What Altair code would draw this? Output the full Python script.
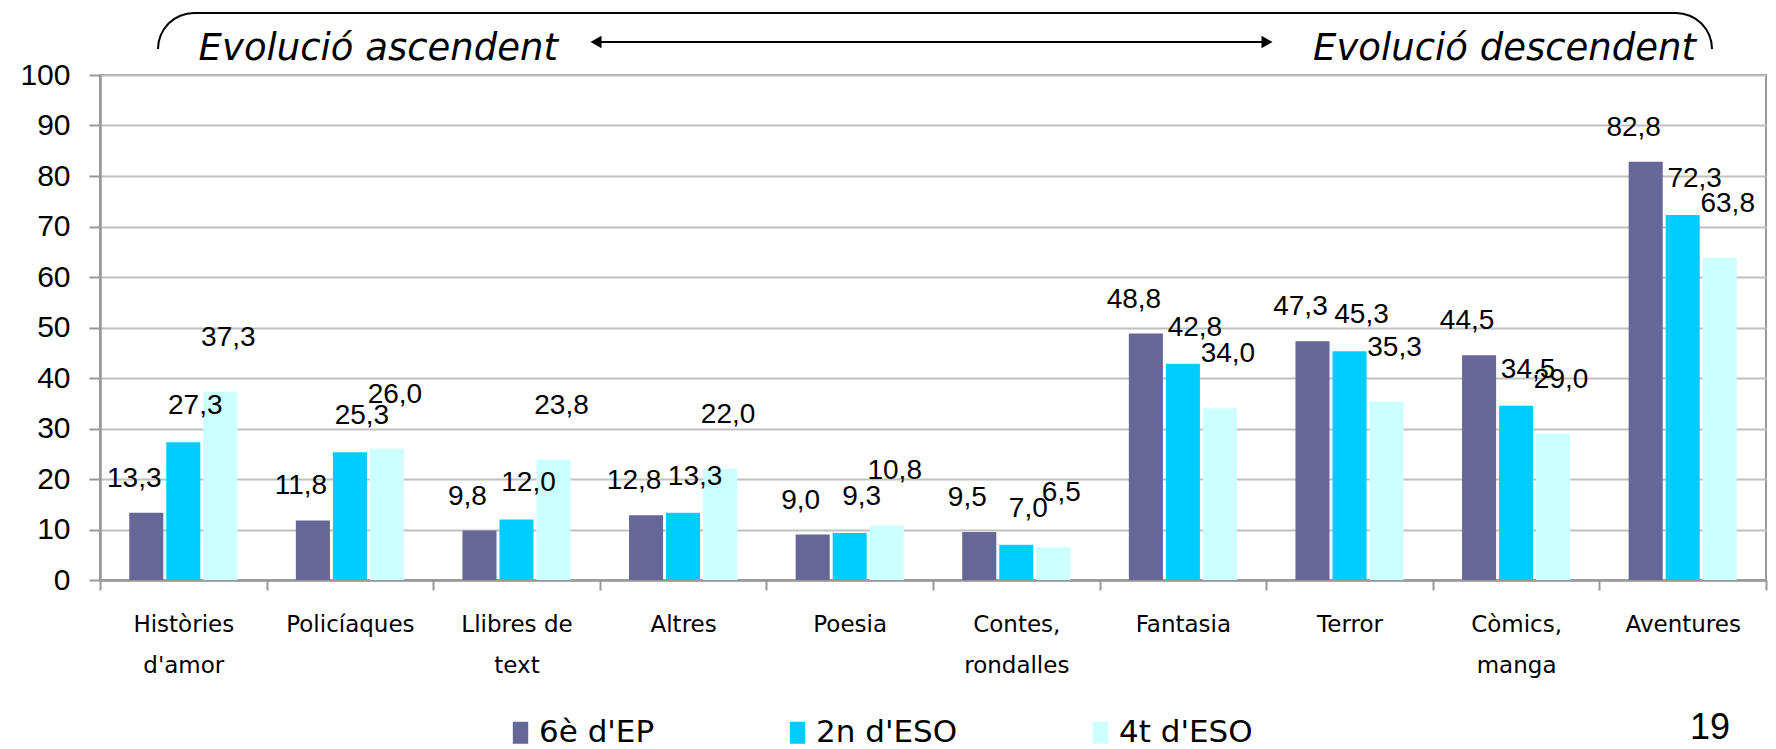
import math
import altair as alt
import pandas as pd

categories = [
    "Històries\nd'amor", "Policíaques", "Llibres de\ntext", "Altres", "Poesia",
    "Contes,\nrondalles", "Fantasia", "Terror", "Còmics,\nmanga", "Aventures",
]
series = ["6è d'EP", "2n d'ESO", "4t d'ESO"]
values_6ep = [13.3, 11.8, 9.8, 12.8, 9.0, 9.5, 48.8, 47.3, 44.5, 82.8]
values_2eso = [27.3, 25.3, 12.0, 13.3, 9.3, 7.0, 42.8, 45.3, 34.5, 72.3]
values_4eso = [37.3, 26.0, 23.8, 22.0, 10.8, 6.5, 34.0, 35.3, 29.0, 63.8]
colors = ["#666699", "#00CCFF", "#CCFFFF"]
y_ticks = list(range(0, 101, 10))

rows = []
for s, vals in zip(series, [values_6ep, values_2eso, values_4eso]):
    for c, v in zip(categories, vals):
        rows.append({"cat": c, "serie": s, "val": v,
                     "lab": f"{v:.1f}".replace(".", ",")})
df = pd.DataFrame(rows)

W, H = 1666, 505
NUM_FONT = "Liberation Sans"
TXT_FONT = "DejaVu Sans"

x_enc = alt.X("cat:N", sort=categories,
              scale=alt.Scale(paddingInner=0, paddingOuter=0),
              axis=alt.Axis(title=None, labelAngle=0, grid=False, tickBand="extent",
                            labelExpr="split(datum.label, '\\n')",
                            labelFont=TXT_FONT, labelFontSize=23, labelLineHeight=41,
                            labelBaseline="top", labelPadding=23, tickSize=10,
                            labelColor="#000000"))
xo_enc = alt.XOffset("serie:N", sort=series,
                     scale=alt.Scale(paddingInner=0.08, paddingOuter=0.79))
y_enc = alt.Y("val:Q", scale=alt.Scale(domain=[0, 100], nice=False),
              axis=alt.Axis(title=None, values=y_ticks, labelFont=NUM_FONT,
                            labelFontSize=30, labelPadding=19, tickSize=11,
                            labelColor="#000000"))

bars = alt.Chart(df).mark_bar().encode(
    x=x_enc, xOffset=xo_enc, y=y_enc,
    color=alt.Color("serie:N", sort=series,
                    scale=alt.Scale(domain=series, range=colors),
                    legend=alt.Legend(title=None, orient="none", direction="horizontal",
                                      legendX=405, legendY=642, padding=0,
                                      labelFont=TXT_FONT, labelFontSize=31,
                                      labelColor="#000000",
                                      symbolType="M-0.7,-1H0.7V1H-0.7Z",
                                      symbolSize=484, symbolStrokeWidth=0,
                                      symbolOpacity=1,
                                      labelOffset=3, columnPadding=127)),
)

label_dx = [-12, 12, 8]
label_dy = [-26, -28, -46]
text_layers = []
for s, dx, dy in zip(series, label_dx, label_dy):
    text_layers.append(
        alt.Chart(df).transform_filter(alt.datum.serie == s).mark_text(
            font=NUM_FONT, fontSize=28, color="#000000", baseline="alphabetic",
            dy=dy, dx=dx,
        ).encode(x=alt.X("cat:N", sort=categories), xOffset=alt.XOffset("serie:N", sort=series),
                 y="val:Q", text="lab:N")
    )

one = pd.DataFrame({"k": [0]})
base = alt.Chart(one)

# bracket at the top
arc_left = base.mark_arc(theta=3 * math.pi / 2, theta2=2 * math.pi, radius=37, radius2=35,
                         color="#000000").encode(x=alt.value(94), y=alt.value(-26))
arc_right = base.mark_arc(theta=0.0001, theta2=math.pi / 2, radius=37, radius2=35,
                          color="#000000").encode(x=alt.value(1576), y=alt.value(-26))
top_line = base.mark_rule(color="#000000", strokeWidth=2).encode(
    x=alt.value(94), x2=alt.value(1576), y=alt.value(-62))

# double arrow
arrow_line = base.mark_rule(color="#000000", strokeWidth=2).encode(
    x=alt.value(496), x2=alt.value(1167), y=alt.value(-33))
arrow_l = base.mark_point(shape="triangle-left", filled=True, size=160, color="#000000",
                          opacity=1).encode(x=alt.value(496), y=alt.value(-33))
arrow_r = base.mark_point(shape="triangle-right", filled=True, size=160, color="#000000",
                          opacity=1).encode(x=alt.value(1167), y=alt.value(-33))

txt_asc = base.mark_text(text="Evolució ascendent", font=TXT_FONT, fontSize=37,
                         fontStyle="italic", align="right", baseline="alphabetic",
                         color="#000000").encode(x=alt.value(458), y=alt.value(-15))
txt_desc = base.mark_text(text="Evolució descendent", font=TXT_FONT, fontSize=37,
                          fontStyle="italic", align="right", baseline="alphabetic",
                          color="#000000").encode(x=alt.value(1596), y=alt.value(-15))
page_no = base.mark_text(text="19", font=NUM_FONT, fontSize=36, align="center",
                         baseline="alphabetic", color="#000000").encode(
    x=alt.value(1610), y=alt.value(664))

chart = alt.layer(
    bars, *text_layers, arc_left, arc_right, top_line, arrow_line, arrow_l, arrow_r,
    txt_asc, txt_desc, page_no,
).properties(
    width=W, height=H,
    autosize=alt.AutoSizeParams(type="none"),
    padding={"left": 92, "top": 67, "right": 2, "bottom": 172},
).configure_view(
    stroke="#999999", strokeWidth=2,
).configure_axis(
    domainColor="#999999", domainWidth=2.5, tickColor="#999999", tickWidth=2,
    gridColor="#C0C0C0", gridWidth=2,
).configure_axisY(
    grid=True,
)

chart.save("out.html", embed_options={"renderer": "svg", "actions": False})
